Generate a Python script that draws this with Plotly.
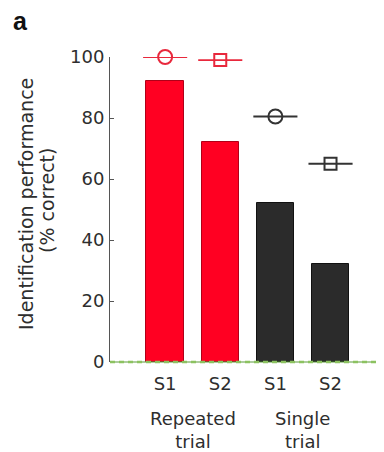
import plotly.graph_objects as go

# Data
positions = [0, 1, 2, 3]
tick_labels = ["S1", "S2", "S1", "S2"]
bar_values = [92, 72, 52, 32]
bar_colors = ["#ff0022", "#ff0022", "#2b2b2b", "#2b2b2b"]
bar_edges = ["#b00018", "#b00018", "#111111", "#111111"]
marker_values = [100, 99, 80.5, 65]
marker_symbols = ["circle-open", "square-open", "circle-open", "square-open"]
marker_colors = ["#e8283c", "#e8283c", "#333333", "#333333"]
group_labels = ["Repeated<br>trial", "Single<br>trial"]
group_centers = [0.5, 2.5]
y_ticks = [0, 20, 40, 60, 80, 100]

FONT = "DejaVu Sans, sans-serif"
TXT = "#2e2e2e"

fig = go.Figure()
fig.add_trace(go.Bar(
    x=positions, y=bar_values, width=0.68,
    marker=dict(color=bar_colors, line=dict(color=bar_edges, width=1)),
    showlegend=False, hoverinfo="skip",
))
for xi, yi, sym, col in zip(positions, marker_values, marker_symbols, marker_colors):
    fig.add_trace(go.Scatter(
        x=[xi], y=[yi], mode="markers",
        marker=dict(symbol=sym, size=14 if "circle" in sym else 12,
                    color=col, line=dict(color=col, width=2)),
        error_x=dict(type="constant", value=0.4, color=col, thickness=1.8, width=0),
        cliponaxis=False, showlegend=False, hoverinfo="skip",
    ))

# page has an 8px body margin: figure is offset by 8px
OFF = 8
W, H = 376, 444
L, R, T, B = 102, 0, 49, 90

fig.update_layout(
    width=W, height=H,
    margin=dict(l=L, r=R, t=T, b=B),
    paper_bgcolor="white", plot_bgcolor="white",
    font=dict(family=FONT, size=18, color=TXT),
    bargap=0,
    xaxis=dict(range=[-1.0, 3.97], tickvals=positions, ticktext=tick_labels,
               showline=False, showgrid=False, zeroline=False, ticks="",
               ticklabelstandoff=9,
               tickfont=dict(size=18, family=FONT, color=TXT)),
    yaxis=dict(range=[0, 100], tickvals=y_ticks, showline=True, linecolor="#555555",
               linewidth=1, ticks="inside", ticklen=4, tickcolor="#555555",
               showgrid=False, zeroline=False, ticklabelstandoff=1,
               tickfont=dict(size=18, family=FONT, color=TXT)),
)

# green dashed baseline (paper-referenced so it is not clipped)
fig.add_shape(type="line", xref="paper", yref="paper", x0=0, x1=1, y0=0, y1=0,
              line=dict(color="#5d9a3c", width=1.2))
fig.add_shape(type="line", xref="paper", yref="paper", x0=0, x1=1, y0=0, y1=0,
              line=dict(color="#8cc260", width=2.5, dash="5px,4px"))

pw = W - L - R
ph = H - T - B

def px(xp):
    return (xp - OFF - L) / pw

def py(yp):
    return (H - B - (yp - OFF)) / ph

fig.add_annotation(text="Identification performance", textangle=-90,
                   xref="paper", yref="paper", x=px(26), y=py(204),
                   xanchor="center", yanchor="middle", showarrow=False,
                   font=dict(size=19, family=FONT, color=TXT))
fig.add_annotation(text="(% correct)", textangle=-90,
                   xref="paper", yref="paper", x=px(47), y=py(201),
                   xanchor="center", yanchor="middle", showarrow=False,
                   font=dict(size=19, family=FONT, color=TXT))

for gx, gl in zip(group_centers, group_labels):
    fig.add_annotation(text=gl, xref="x", yref="paper", x=gx, y=py(430),
                       xanchor="center", yanchor="middle", showarrow=False,
                       font=dict(size=18, family=FONT, color=TXT))

fig.add_annotation(text="<b>a</b>", xref="paper", yref="paper", x=px(11), y=py(21),
                   xanchor="left", yanchor="middle", showarrow=False,
                   font=dict(size=25, family="Liberation Sans, Arial, sans-serif",
                             color="#111111"))

fig.write_html("out.html")
